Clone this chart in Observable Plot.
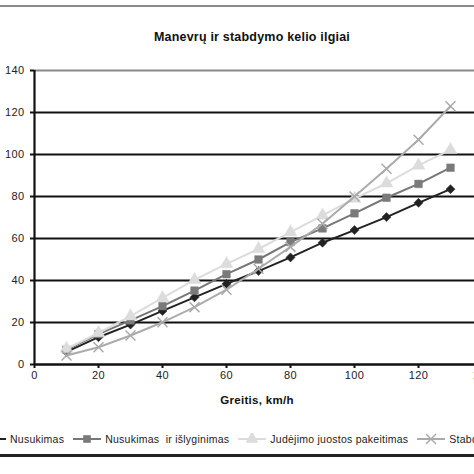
<!DOCTYPE html>
<html><head><meta charset="utf-8">
<script src="https://cdn.jsdelivr.net/npm/d3@7"></script>
<script src="https://cdn.jsdelivr.net/npm/@observablehq/plot@0.6"></script>
<style>
body{margin:0;background:#fff;}
#wrap{position:relative;width:474px;height:474px;overflow:hidden;font-family:"Liberation Sans",Arial,sans-serif;background:#fff;}
#wrap svg.plot{position:absolute;left:0;top:0;}
#title{position:absolute;left:0;width:504px;top:30px;text-align:center;font-weight:bold;font-size:12.5px;color:#111;letter-spacing:0.2px;}
#xlabel{position:absolute;left:0;width:514px;top:394px;text-align:center;font-weight:bold;font-size:11.5px;color:#111;letter-spacing:0.3px;}
#topline{position:absolute;left:0;right:0;top:5px;height:2px;background:#8a8a8a;}
#botline{position:absolute;left:0;right:0;top:454px;height:3px;background:#222;}
#legend{position:absolute;left:-22px;top:433px;display:flex;align-items:center;white-space:nowrap;font-size:10.5px;color:#222;letter-spacing:0.25px;}
#legend .item{display:flex;align-items:center;margin-right:9px;}
#legend svg{margin-right:4px;}
</style></head><body><div id="wrap"><div id="topline"></div><div id="title">Manevrų ir stabdymo kelio ilgiai</div><div id="xlabel">Greitis, km/h</div><div id="legend"></div><div id="botline"></div></div>
<script>
const speeds = [10, 20, 30, 40, 50, 60, 70, 80, 90, 100, 110, 120, 130];
const nusukimas = [6, 13, 19, 25.5, 32, 38.4, 44.5, 51, 58, 64, 70.2, 77, 83.5];
const nusukimasIslyginimas = [7, 14.5, 21, 27.8, 35.2, 43, 50, 58.3, 64.8, 72, 79.4, 86, 93.7];
const juostosPakeitimas = [7.5, 15, 23, 31.7, 40.3, 47.9, 55, 63, 71, 79, 86.3, 94.8, 102.2];
const stabdymas = [4.3, 8.2, 13.8, 20.1, 27.3, 35.6, 45.6, 56, 67, 80, 93.2, 107, 123];
const seriesNames = ["Nusukimas", "Nusukimas  ir išlyginimas", "Judėjimo juostos pakeitimas", "Stabdymo kelias"];
const xTicks = [0, 20, 40, 60, 80, 100, 120, 140];
const yTicks = [0, 20, 40, 60, 80, 100, 120, 140];
const gridValues = [20, 40, 60, 80, 100, 120];

const seriesValues = [nusukimas, nusukimasIslyginimas, juostosPakeitimas, stabdymas];
const styles = [
  {stroke: "#222", symbol: "square", rotate: 45, r: 3.6, fill: "#222", strokeMark: false},
  {stroke: "#777", symbol: "square", rotate: 0, r: 4.3, fill: "#7a7a7a", strokeMark: false},
  {stroke: "#dcdcdc", symbol: "triangle", rotate: 0, r: 4.8, fill: "#dcdcdc", strokeMark: false},
  {stroke: "#ababab", symbol: "times", rotate: 0, r: 4.6, fill: "none", strokeMark: true}
];

const marks = [
  Plot.ruleY(gridValues, {stroke: "#111", strokeWidth: 2}),
  Plot.ruleY([140], {stroke: "#888", strokeWidth: 2}),
  Plot.axisY({ticks: yTicks, tickSize: 4, tickPadding: 6, strokeWidth: 2, stroke: "#111", fontSize: 11, fill: "#222", label: null}),
  Plot.axisX({ticks: xTicks, tickSize: 4, tickPadding: 3, strokeWidth: 2, stroke: "#111", fontSize: 11, fill: "#222", label: null})
];
seriesValues.forEach((vals, i) => {
  const s = styles[i];
  const data = speeds.map((x, j) => ({x, y: vals[j]}));
  marks.push(Plot.line(data, {x: "x", y: "y", stroke: s.stroke, strokeWidth: 2}));
  if (s.strokeMark) {
    marks.push(Plot.dot(data, {x: "x", y: "y", symbol: s.symbol, r: s.r, stroke: s.stroke, strokeWidth: 1.5}));
  } else {
    marks.push(Plot.dot(data, {x: "x", y: "y", symbol: s.symbol, rotate: s.rotate, r: s.r, fill: s.fill, stroke: s.fill, strokeWidth: 0.5}));
  }
});
marks.push(Plot.ruleX([0], {stroke: "#111", strokeWidth: 2.2}));
marks.push(Plot.ruleY([0], {stroke: "#111", strokeWidth: 2.5}));

const chart = Plot.plot({
  width: 474,
  height: 474,
  marginTop: 70,
  marginBottom: 110,
  marginLeft: 34,
  marginRight: 0,
  x: {domain: [0, 140], range: [34, 482]},
  y: {domain: [0, 140]},
  style: {fontFamily: "'Liberation Sans', Arial, sans-serif", fontSize: "11px", color: "#222", background: "transparent", letterSpacing: "0.4px"},
  marks
});
chart.classList.add("plot");
document.getElementById("wrap").insertBefore(chart, document.getElementById("topline"));

// legend
const legend = document.getElementById("legend");
const ns = "http://www.w3.org/2000/svg";
seriesNames.forEach((name, i) => {
  const s = styles[i];
  const item = document.createElement("div");
  item.className = "item";
  const sw = document.createElementNS(ns, "svg");
  sw.setAttribute("width", 28); sw.setAttribute("height", 12);
  const ln = document.createElementNS(ns, "line");
  ln.setAttribute("x1", 0); ln.setAttribute("x2", 28); ln.setAttribute("y1", 6); ln.setAttribute("y2", 6);
  ln.setAttribute("stroke", s.stroke); ln.setAttribute("stroke-width", 2);
  sw.appendChild(ln);
  const sym = document.createElementNS(ns, "path");
  const symType = {square: d3.symbolSquare, triangle: d3.symbolTriangle, times: d3.symbolTimes}[s.symbol];
  sym.setAttribute("d", d3.symbol(symType, s.r * s.r * Math.PI)());
  sym.setAttribute("transform", `translate(14,6) rotate(${s.rotate})`);
  if (s.strokeMark) { sym.setAttribute("fill", "none"); sym.setAttribute("stroke", s.stroke); sym.setAttribute("stroke-width", 1.5); }
  else { sym.setAttribute("fill", s.fill); }
  sw.appendChild(sym);
  item.appendChild(sw);
  const t = document.createElement("span");
  t.textContent = name;
  t.style.whiteSpace = "pre";
  item.appendChild(t);
  legend.appendChild(item);
});
</script>
</body></html>
